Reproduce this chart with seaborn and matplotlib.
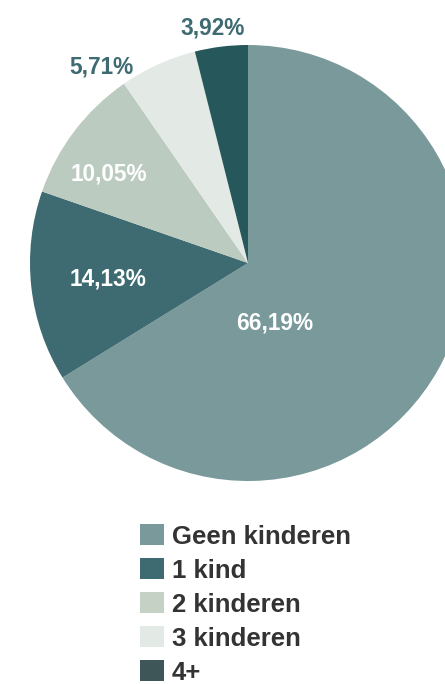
import matplotlib
matplotlib.use("Agg")
import matplotlib.pyplot as plt
from matplotlib.patches import Patch
import numpy as np
import seaborn as sns

sns.set_theme(style="white")
plt.rcParams['font.family'] = ['Liberation Sans', 'DejaVu Sans']

categories = ["Geen kinderen", "1 kind", "2 kinderen", "3 kinderen", "4+"]
shares = [66.19, 14.13, 10.05, 5.71, 3.92]
slice_colors = ["#7a999b", "#3e6a71", "#bccbc0", "#e3eae6", "#26575a"]
legend_colors = ["#7a999b", "#3e6a71", "#c6d1c6", "#e3eae6", "#3f5658"]
labels = ["66,19%", "14,13%", "10,05%", "5,71%", "3,92%"]

W, H = 445, 684
fig = plt.figure(figsize=(W / 100, H / 100), dpi=100)
fig.patch.set_facecolor("white")

# pie centre and radius in pixels
cx, cy, r = 248, 263, 218
ax = fig.add_axes([(cx - r) / W, (H - cy - r) / H, 2 * r / W, 2 * r / H])
ax.axis("off")

wedges, _ = ax.pie(shares, colors=slice_colors, startangle=90, counterclock=False,
                   radius=1, center=(0, 0), wedgeprops=dict(linewidth=0),
                   frame=False)
ax.set_xlim(-1, 1)
ax.set_ylim(-1, 1)
ax.set_aspect("auto")

# label placement: (radius fraction, angle offset in degrees, colour)
placements = [(0.30, -36.6, "white"), (0.644, 0.3, "white"), (0.76, 4.6, "white"),
              (1.122, 12.4, "#3e6a71"), (1.09, 1.4, "#3e6a71")]
for w, lab, (rf, dang, col) in zip(wedges, labels, placements):
    mid = np.deg2rad((w.theta1 + w.theta2) / 2 + dang)
    ax.text(rf * np.cos(mid), rf * np.sin(mid), lab, ha="center", va="center",
            color=col, fontsize=16.3, fontweight="bold", clip_on=False)

handles = [Patch(facecolor=c, edgecolor="none") for c in legend_colors]
leg = fig.legend(handles, categories, loc="upper left",
                 bbox_to_anchor=(140 / W, 1 - 524 / H), frameon=False,
                 prop=dict(size=18.5, weight="bold"), handlelength=0.93,
                 handleheight=0.9, handletextpad=0.3, labelspacing=0.37,
                 borderpad=0, borderaxespad=0)
for t in leg.get_texts():
    t.set_color("#333333")

fig.savefig("out.png", dpi=100, facecolor="white")
